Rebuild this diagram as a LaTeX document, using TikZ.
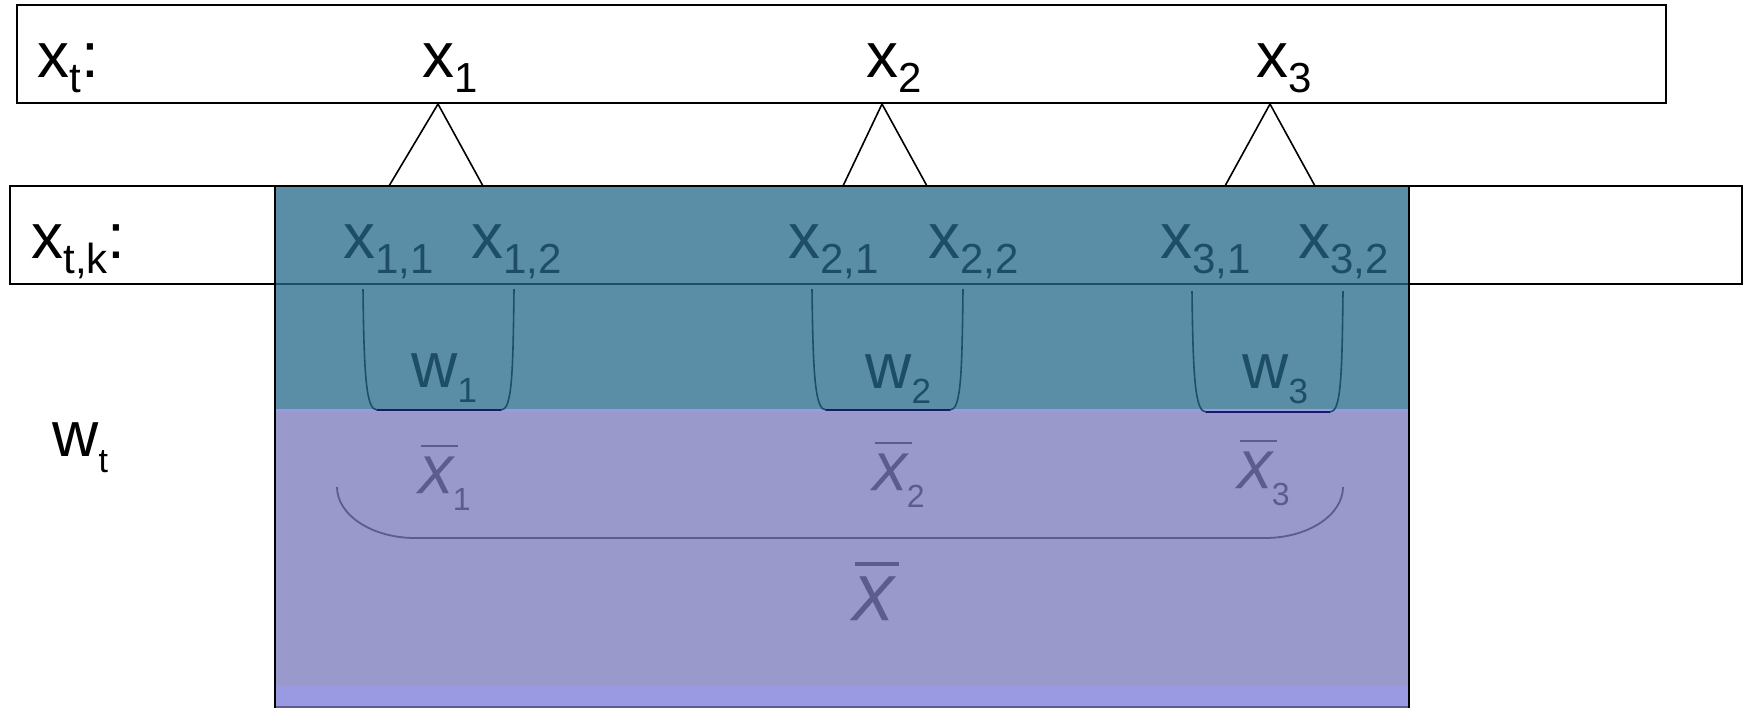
\documentclass[tikz,border=0pt]{standalone}
\usepackage{fontspec}
\setmainfont{Liberation Sans}
\newfontfamily\xbarfont[FakeBold=0.6]{Liberation Sans}
\definecolor{tealfill}{HTML}{5A8DA6}
\definecolor{tealtext}{HTML}{1D4E66}
\definecolor{tealline}{HTML}{1F4F68}
\definecolor{navyline}{HTML}{1A1A66}
\definecolor{purfill}{HTML}{9999CB}
\definecolor{purstrip}{HTML}{9A9AE3}
\definecolor{purtext}{HTML}{5C5C8E}
\newcommand\sbx[3]{\raisebox{-#2}{\fontsize{#1}{#1}\selectfont #3}}
\newcommand\barX{\makebox[0pt][l]{\hspace{0.06em}\rule[0.86em]{0.7em}{0.055em}}{\xbarfont\itshape X}}
\begin{document}
\begin{tikzpicture}[x=0.5pt,y=-0.5pt,
  boxline/.style={draw=black,line width=1pt},
  lbl/.style={inner sep=0pt,anchor=base west,font=\fontsize{32}{32}\selectfont},
  tlbl/.style={lbl,text=tealtext},
  plbl/.style={inner sep=0pt,anchor=base west,text=purtext},
  tri/.style={draw=black,line width=0.8pt},
  wbr/.style={draw=tealline,line width=0.8pt},
  wbot/.style={draw=navyline,line width=0.9pt},
  bigbr/.style={draw=purtext,line width=0.9pt}]
\useasboundingbox (0,0) rectangle (1745,708);
% boxes
\draw[boxline,fill=white] (17,5) rectangle (1666,103);
\draw[boxline,fill=white] (10,186) rectangle (1742,284);
% main coloured rectangle
\fill[tealfill] (275,186) rectangle (1409,409);
\fill[purfill] (275,409) rectangle (1409,686);
\fill[purstrip] (275,686) rectangle (1409,708);
\draw[purstrip,line width=1.5pt] (275,410.5) -- (1409,410.5);
\draw[tealline,line width=1pt] (275,284) -- (1409,284);
\draw[purtext,line width=1pt] (275,707) -- (1409,707);
\draw[black,line width=1pt] (275,186) -- (1409,186);
\draw[black,line width=1pt] (275,186) -- (275,708);
\draw[black,line width=1pt] (1409,186) -- (1409,708);
% top labels
\node[lbl] (xt) at (37,77) {x\sbx{21}{7.5pt}{t}:};
\node[lbl] (x1) at (422,77) {x\sbx{21}{7.5pt}{1}};
\node[lbl] (x2) at (866,77) {x\sbx{21}{7.5pt}{2}};
\node[lbl] (x3) at (1256,77) {x\sbx{21}{7.5pt}{3}};
% second row labels
\node[lbl] (xtk) at (31,258) {x\sbx{21}{7.5pt}{t,k}:};
\node[tlbl] (x11) at (343,258) {x\sbx{21}{7.5pt}{1,1}};
\node[tlbl] (x12) at (471,258) {x\sbx{21}{7.5pt}{1,2}};
\node[tlbl] (x21) at (788,258) {x\sbx{21}{7.5pt}{2,1}};
\node[tlbl] (x22) at (928,258) {x\sbx{21}{7.5pt}{2,2}};
\node[tlbl] (x31) at (1160,258) {x\sbx{21}{7.5pt}{3,1}};
\node[tlbl] (x32) at (1298,258) {x\sbx{21}{7.5pt}{3,2}};
% triangles
\coordinate (a1) at (438,104); \coordinate (b1l) at (389,186); \coordinate (b1r) at (483,186);
\coordinate (a2) at (882,104); \coordinate (b2l) at (843,186); \coordinate (b2r) at (927,186);
\coordinate (a3) at (1270,104); \coordinate (b3l) at (1225,186); \coordinate (b3r) at (1315,186);
\draw[tri] (b1l) -- (a1) -- (b1r);
\draw[tri] (b2l) -- (a2) -- (b2r);
\draw[tri] (b3l) -- (a3) -- (b3r);
% w brackets
\draw[wbr] (363,289) .. controls (364,375) and (366,410) .. (377,410) -- (501,410) .. controls (512,410) and (513,375) .. (514,289);
\draw[wbot] (377,410) -- (501,410);
\draw[wbr] (812,289) .. controls (813,375) and (815,410) .. (826,410) -- (950,410) .. controls (961,410) and (962,375) .. (963,289);
\draw[wbot] (826,410) -- (950,410);
\draw[wbr] (1192,291) .. controls (1193,377) and (1195,412) .. (1206,412) -- (1330,412) .. controls (1341,412) and (1342,377) .. (1343,291);
\draw[wbot] (1206,412) -- (1330,412);
% w labels
\node[tlbl] (w1) at (411,387) {w\sbx{17.5}{7.5pt}{1}};
\node[tlbl] (w2) at (865,388) {w\sbx{17.5}{7.5pt}{2}};
\node[tlbl] (w3) at (1242,388) {w\sbx{17.5}{7.5pt}{3}};
\node[lbl] (wt) at (52,456) {w\sbx{17}{8pt}{t}};
% xbar labels
\node[plbl,font=\fontsize{26.5}{26.5}\selectfont] (xb1) at (417,493) {\barX\sbx{16}{8.5pt}{1}};
\node[plbl,font=\fontsize{26.5}{26.5}\selectfont] (xb2) at (871,490) {\barX\sbx{16}{8.5pt}{2}};
\node[plbl,font=\fontsize{26.5}{26.5}\selectfont] (xb3) at (1236,488) {\barX\sbx{16}{8.5pt}{3}};
% big bracket
\draw[bigbr] (337,487) .. controls (337,515) and (372,538) .. (415,538) -- (1265,538) .. controls (1308,538) and (1343,515) .. (1343,487);
\node[plbl,font=\fontsize{31.5}{31.5}\selectfont] (xb) at (851,620) {\barX};
\end{tikzpicture}
\end{document}
